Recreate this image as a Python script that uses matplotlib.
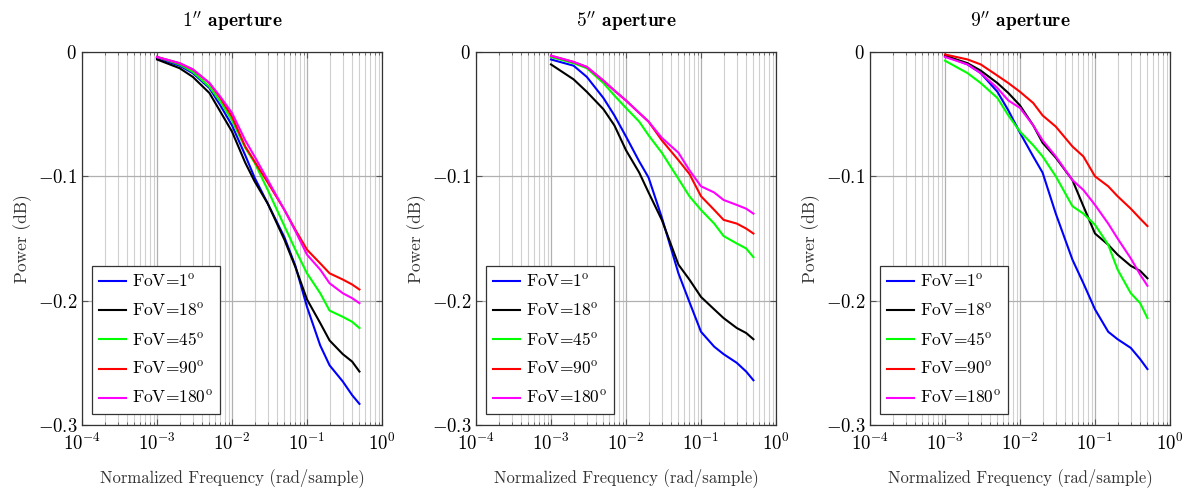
import numpy as np
import matplotlib as mpl
from matplotlib import pyplot as plt

# fonts: computer modern look
mpl.rcParams.update({
    'font.family': 'cmr10',
    'mathtext.fontset': 'cm',
    'axes.formatter.use_mathtext': True,
    'axes.unicode_minus': True,
})

# frequencies (rad/sample) where curves were read
freq = [1e-3, 2e-3, 3e-3, 5e-3, 7e-3, 1e-2, 1.5e-2, 2e-2, 3e-2, 5e-2, 7e-2,
        0.1, 0.15, 0.2, 0.3, 0.4, 0.5]

labels = ['FoV=1$^\\mathrm{o}$', 'FoV=18$^\\mathrm{o}$', 'FoV=45$^\\mathrm{o}$',
          'FoV=90$^\\mathrm{o}$', 'FoV=180$^\\mathrm{o}$']
colors = ['#0000ff', '#000000', '#00ff00', '#ff0000', '#ff00ff']
titles = ["$\\mathbf{1''}$ aperture", "$\\mathbf{5''}$ aperture",
          "$\\mathbf{9''}$ aperture"]

# 1" aperture
a1_fov1 = [-0.005, -0.011, -0.017, -0.029, -0.043, -0.059, -0.083, -0.101, -0.122,
           -0.149, -0.172, -0.205, -0.236, -0.252, -0.265, -0.276, -0.283]
a1_fov18 = [-0.006, -0.013, -0.020, -0.033, -0.048, -0.064, -0.089, -0.104, -0.122,
            -0.151, -0.173, -0.199, -0.218, -0.232, -0.243, -0.249, -0.257]
a1_fov45 = [-0.004, -0.010, -0.016, -0.028, -0.040, -0.055, -0.077, -0.089, -0.111,
            -0.140, -0.159, -0.178, -0.194, -0.208, -0.213, -0.217, -0.222]
a1_fov90 = [-0.004, -0.009, -0.014, -0.025, -0.037, -0.052, -0.076, -0.088, -0.105,
            -0.127, -0.143, -0.159, -0.170, -0.178, -0.183, -0.187, -0.191]
a1_fov180 = [-0.004, -0.009, -0.014, -0.025, -0.036, -0.049, -0.071, -0.084, -0.103,
             -0.127, -0.144, -0.163, -0.175, -0.186, -0.194, -0.198, -0.202]

# 5" aperture
a5_fov1 = [-0.006, -0.011, -0.020, -0.037, -0.051, -0.068, -0.088, -0.101, -0.133,
           -0.178, -0.201, -0.225, -0.237, -0.243, -0.250, -0.257, -0.264]
a5_fov18 = [-0.010, -0.022, -0.032, -0.046, -0.059, -0.079, -0.097, -0.113, -0.135,
            -0.171, -0.183, -0.197, -0.207, -0.214, -0.222, -0.226, -0.231]
a5_fov45 = [-0.004, -0.009, -0.013, -0.025, -0.035, -0.045, -0.056, -0.067, -0.081,
            -0.102, -0.116, -0.127, -0.138, -0.148, -0.154, -0.158, -0.165]
a5_fov90 = [-0.003, -0.008, -0.012, -0.023, -0.031, -0.039, -0.049, -0.056, -0.071,
            -0.087, -0.098, -0.116, -0.127, -0.135, -0.138, -0.142, -0.146]
a5_fov180 = [-0.003, -0.008, -0.012, -0.023, -0.031, -0.039, -0.049, -0.056, -0.069,
             -0.081, -0.095, -0.108, -0.113, -0.119, -0.123, -0.126, -0.130]

# 9" aperture
a9_fov1 = [-0.003, -0.010, -0.017, -0.032, -0.047, -0.065, -0.084, -0.097, -0.130,
           -0.167, -0.186, -0.207, -0.225, -0.231, -0.238, -0.247, -0.255]
a9_fov18 = [-0.003, -0.009, -0.015, -0.025, -0.033, -0.043, -0.059, -0.073, -0.085,
            -0.103, -0.124, -0.146, -0.155, -0.163, -0.172, -0.176, -0.182]
a9_fov45 = [-0.007, -0.017, -0.025, -0.037, -0.051, -0.064, -0.075, -0.084, -0.100,
            -0.124, -0.130, -0.139, -0.155, -0.175, -0.194, -0.202, -0.214]
a9_fov90 = [-0.002, -0.006, -0.010, -0.019, -0.025, -0.032, -0.041, -0.051, -0.060,
            -0.076, -0.084, -0.100, -0.108, -0.116, -0.126, -0.134, -0.140]
a9_fov180 = [-0.004, -0.010, -0.017, -0.029, -0.039, -0.045, -0.059, -0.071, -0.084,
             -0.103, -0.111, -0.123, -0.138, -0.150, -0.166, -0.179, -0.188]

panels = [
    [a1_fov1, a1_fov18, a1_fov45, a1_fov90, a1_fov180],
    [a5_fov1, a5_fov18, a5_fov45, a5_fov90, a5_fov180],
    [a9_fov1, a9_fov18, a9_fov45, a9_fov90, a9_fov180],
]

#####
fig = plt.figure(figsize=(11.89, 4.88), dpi=100)
lefts = [82, 476, 870]

for i, series in enumerate(panels):
    ax = fig.add_axes([lefts[i] / 1189, 63 / 488, 300 / 1189, 373 / 488])

    for vals, col, lab in zip(series, colors, labels):
        ax.plot(freq, vals, color=col, lw=1.5, label=lab)

    ax.set_xscale('log')
    ax.set_xlim(1e-4, 1)
    ax.set_ylim(-0.3, 0)
    ax.set_yticks([-0.3, -0.2, -0.1, 0])
    ax.set_yticklabels(['$-0.3$', '$-0.2$', '$-0.1$', '$0$'])

    ax.grid(True, which='major', color='#b0b0b0', lw=0.9)
    ax.grid(True, which='minor', axis='x', color='#d0d0d0', lw=0.8)
    ax.tick_params(which='both', direction='in', top=True, right=True,
                   labelsize=13.5, color='#555555')
    ax.tick_params(axis='x', pad=6)
    ax.tick_params(which='major', length=4)
    ax.tick_params(which='minor', length=2.5)
    for s in ax.spines.values():
        s.set_linewidth(0.9)
        s.set_color('#333333')

    ax.set_xlabel('Normalized Frequency (rad/sample)', fontsize=12, color='#333333',
                  labelpad=10)
    ax.set_ylabel('Power (dB)', fontsize=12.5, color='#333333', labelpad=4)
    ax.set_title(titles[i], fontsize=14, fontfamily='cmb10', pad=18)

    leg = ax.legend(loc='lower left', bbox_to_anchor=(0.032, 0.03), borderaxespad=0,
                    fontsize=12.5, fancybox=False, edgecolor='#333333',
                    framealpha=1, handlelength=1.6, handletextpad=0.35,
                    labelspacing=0.7, borderpad=0.4)
    leg.get_frame().set_linewidth(0.9)

plt.savefig('out.png', dpi=100)
plt.close()
